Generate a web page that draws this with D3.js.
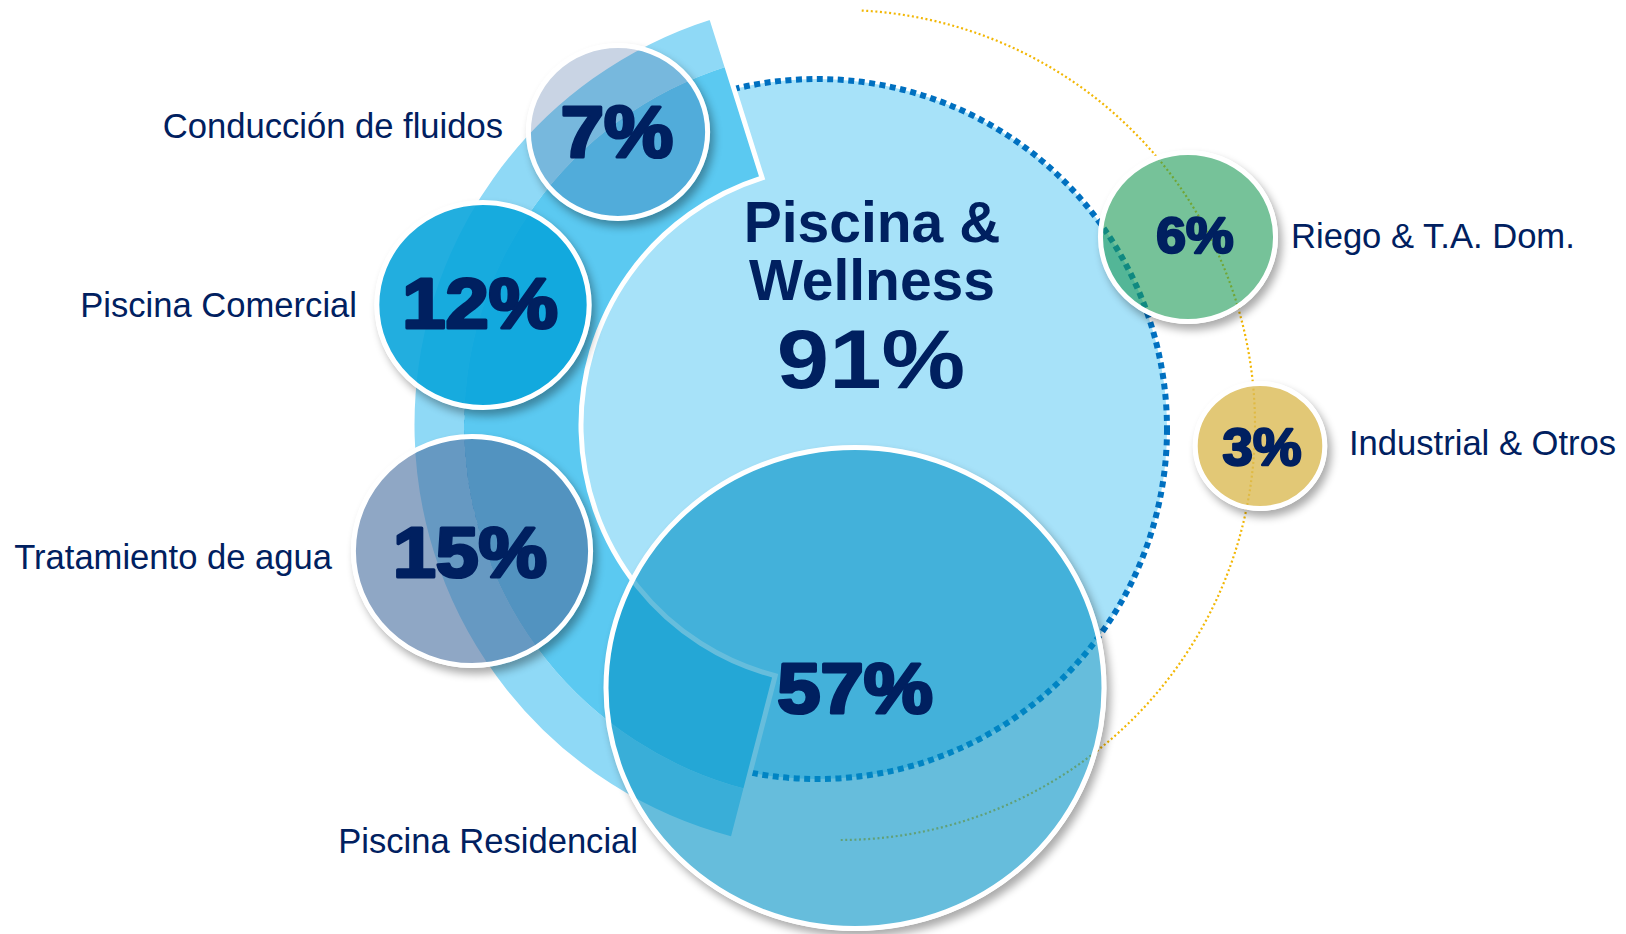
<!DOCTYPE html>
<html>
<head>
<meta charset="utf-8">
<script src="https://cdn.jsdelivr.net/npm/d3@7"></script>
<style>
  html, body { margin: 0; background: #fff; }
  svg { display: block; }
</style>
</head>
<body>
<svg id="chart"></svg>
<script>
// data
const groupTitle = ["Piscina &", "Wellness"];
const groupShare = 91;
const segments = ["Conducción de fluidos", "Piscina Comercial", "Tratamiento de agua",
                  "Piscina Residencial", "Riego & T.A. Dom.", "Industrial & Otros"];
const shares = [7, 12, 15, 57, 6, 3];

// layout of the bubbles (infographic, not to scale)
const layout = [
    {cx: 618, cy: 132, r: 89, fill: "#38609a", alpha: 0.27, fs: 72, vx: 617, vy: 157, sx: 1.08, side: "left", lx: 503, ly: 138},
    {cx: 483, cy: 305, r: 105, fill: "#0aa5dc", alpha: 0.9, fs: 70, vx: 480, vy: 328, sx: 1.11, side: "left", lx: 357, ly: 317},
    {cx: 472, cy: 551, r: 117, fill: "#4e74a3", alpha: 0.63, fs: 70, vx: 470, vy: 577, sx: 1.1, side: "left", lx: 332, ly: 569},
    {cx: 855, cy: 688, r: 243, fill: "#0091c5", alpha: 0.6, fs: 70, vx: 855, vy: 713, sx: 1.11, side: "left", lx: 638, ly: 853},
    {cx: 1188, cy: 237, r: 87, fill: "#1a9a55", alpha: 0.6, fs: 50, vx: 1195, vy: 253, sx: 1.07, side: "right", lx: 1291, ly: 248},
    {cx: 1260, cy: 446, r: 65, fill: "#dbba54", alpha: 0.8, fs: 51, vx: 1262, vy: 465, sx: 1.07, side: "right", lx: 1349, ly: 455}
];
const stretchX = 1.035;
const navy = "#002060";
const font = "'Liberation Sans', Arial, sans-serif";

const width = 1626, height = 934;
const deg = Math.PI / 180;

const svg = d3.select("#chart")
    .attr("width", width)
    .attr("height", height);

const defs = svg.append("defs");
defs.append("filter")
    .attr("id", "soft")
    .attr("x", "-20%").attr("y", "-20%")
    .attr("width", "140%").attr("height", "140%")
    .append("feGaussianBlur")
    .attr("stdDeviation", 4);

// ring centre
const ring = {x: 840, y: 425};

// orange dotted orbit
const orbit = d3.path();
const oR = 415;
orbit.moveTo(ring.x + oR * Math.cos(-87 * deg), ring.y + oR * Math.sin(-87 * deg));
orbit.arc(ring.x, ring.y, oR, -87 * deg, 90 * deg);
svg.append("path")
    .attr("d", orbit.toString())
    .attr("fill", "none")
    .attr("stroke", "#f2b705")
    .attr("stroke-width", 2.2)
    .attr("stroke-dasharray", "2 2.6");

// big circle for Piscina & Wellness
const big = {x: 817, y: 429, r: 350};
svg.append("circle")
    .attr("cx", big.x).attr("cy", big.y).attr("r", big.r)
    .attr("fill", "#a7e2f9");
svg.append("circle")
    .attr("cx", big.x).attr("cy", big.y).attr("r", big.r)
    .attr("fill", "none")
    .attr("stroke", "#0070c0")
    .attr("stroke-width", 6)
    .attr("stroke-dasharray", "6 4.5");

// wedge with two bands
const a0 = 194.5 * deg, a1 = 342.5 * deg;
const bands = [
    {inner: 376, outer: 428, color: "#8fd9f6"},
    {inner: 259, outer: 376, color: "#5bc9f1"}
];
const wedge = svg.append("g").attr("transform", `translate(${ring.x},${ring.y})`);
wedge.selectAll("path.band")
    .data(bands)
    .join("path")
    .attr("class", "band")
    .attr("d", d => d3.arc()({innerRadius: d.inner, outerRadius: d.outer, startAngle: a0, endAngle: a1}))
    .attr("fill", d => d.color);
wedge.append("path")
    .attr("d", d3.arc()({innerRadius: 259, outerRadius: 428, startAngle: a0, endAngle: a1}))
    .attr("fill", "none")
    .attr("stroke", "#fff")
    .attr("stroke-width", 5);

// bubbles
const bubbles = segments.map((s, i) => Object.assign({name: s, value: shares[i]}, layout[i]));

const masks = defs.selectAll("mask")
    .data(bubbles)
    .join("mask")
    .attr("id", (d, i) => "hole" + i)
    .attr("maskUnits", "userSpaceOnUse")
    .attr("x", 0).attr("y", 0).attr("width", width).attr("height", height);
masks.append("rect").attr("width", width).attr("height", height).attr("fill", "#fff");
masks.append("ellipse")
    .attr("cx", d => d.cx).attr("cy", d => d.cy)
    .attr("rx", d => d.r * stretchX).attr("ry", d => d.r)
    .attr("fill", "#000");

svg.append("g").selectAll("ellipse")
    .data(bubbles)
    .join("ellipse")
    .attr("cx", d => d.cx + 4).attr("cy", d => d.cy + 6)
    .attr("rx", d => d.r * stretchX).attr("ry", d => d.r)
    .attr("fill", "#000")
    .attr("opacity", 0.33)
    .attr("filter", "url(#soft)")
    .attr("mask", (d, i) => `url(#hole${i})`);

const bub = svg.append("g").selectAll("g")
    .data(bubbles)
    .join("g");
bub.append("ellipse")
    .attr("cx", d => d.cx).attr("cy", d => d.cy)
    .attr("rx", d => d.r * stretchX - 2.5).attr("ry", d => d.r - 2.5)
    .attr("fill", d => d.fill)
    .attr("fill-opacity", d => d.alpha);
bub.append("ellipse")
    .attr("cx", d => d.cx).attr("cy", d => d.cy)
    .attr("rx", d => d.r * stretchX - 2.5).attr("ry", d => d.r - 2.5)
    .attr("fill", "none")
    .attr("stroke", "#fff")
    .attr("stroke-width", 5);

// value labels
bub.append("text")
    .attr("transform", d => `translate(${d.vx},${d.vy}) scale(${d.sx},1)`)
    .attr("text-anchor", "middle")
    .attr("font-family", font)
    .attr("font-weight", "bold")
    .attr("font-size", d => d.fs)
    .attr("fill", navy)
    .attr("stroke", navy)
    .attr("stroke-width", d => d.fs > 60 ? 3.2 : 2.4)
    .attr("stroke-linejoin", "round")
    .attr("paint-order", "stroke")
    .text(d => d.value + "%");

// category labels
bub.append("text")
    .attr("x", d => d.lx)
    .attr("y", d => d.ly)
    .attr("text-anchor", d => d.side === "left" ? "end" : "start")
    .attr("font-family", font)
    .attr("font-size", 34.6)
    .attr("fill", navy)
    .text(d => d.name);

// group title
const title = svg.append("text")
    .attr("text-anchor", "middle")
    .attr("font-family", font)
    .attr("font-weight", "bold")
    .attr("fill", navy);
title.selectAll("tspan")
    .data(groupTitle)
    .join("tspan")
    .attr("x", 872)
    .attr("y", (d, i) => 242 + i * 58)
    .attr("font-size", 57)
    .text(d => d);
svg.append("text")
    .attr("transform", "translate(871,388) scale(1.12,1)")
    .attr("text-anchor", "middle")
    .attr("font-family", font)
    .attr("font-weight", "bold")
    .attr("font-size", 84)
    .attr("fill", navy)
    .text(groupShare + "%");
</script>
</body>
</html>
